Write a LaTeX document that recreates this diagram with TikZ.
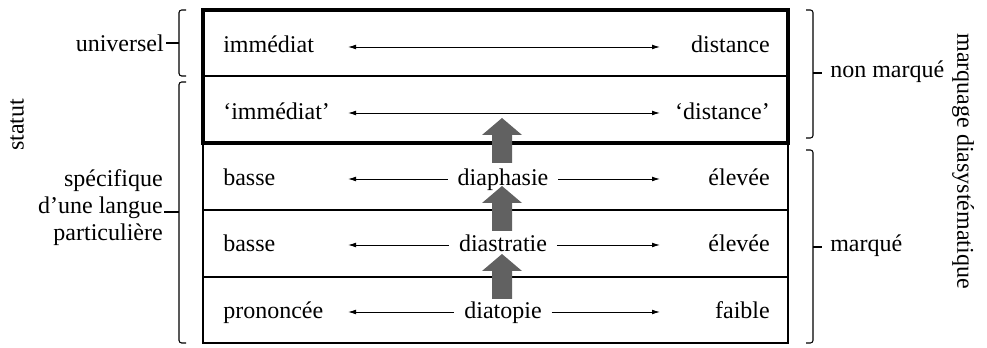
\documentclass[tikz,border=0pt]{standalone}
\usepackage{fontspec}
\setmainfont{Liberation Serif}
\usetikzlibrary{arrows.meta}
\begin{document}
\begin{tikzpicture}[x=0.75pt,y=-0.75pt,
  lbl/.style={font=\fontsize{18}{25}\selectfont, inner sep=0pt},
  mid/.style={lbl, anchor=base, outer xsep=7.5pt},
  rowline/.style={line width=1.1pt},
  frame/.style={line width=2.4pt},
  both/.style={line width=0.7pt, {Latex[length=6pt,width=3.6pt]}-{Latex[length=6pt,width=3.6pt]}},
  toleft/.style={line width=0.7pt, {Latex[length=6pt,width=3.6pt]}-},
  toright/.style={line width=0.7pt, -{Latex[length=6pt,width=3.6pt]}},
  brk/.style={line width=0.8pt, rounded corners=2pt},
  tick/.style={line width=0.8pt},
  bigarrow/.style={fill=black!62}
]
\useasboundingbox (0,0) rectangle (987,348);

% table rows
\draw[rowline] (203,143) rectangle (788,343);
\draw[rowline] (203,210) -- (788,210);
\draw[rowline] (203,277) -- (788,277);
\draw[rowline] (203,76) -- (788,76);
\draw[frame] (203,10) rectangle (788,143);

% row labels (placed on their baselines)
\node[lbl, anchor=base west] (l1) at (223,53) {immédiat};
\node[lbl, anchor=base east] (r1) at (770,53) {distance};
\node[lbl, anchor=base west] (l2) at (223,120) {‘immédiat’};
\node[lbl, anchor=base east] (r2) at (770,120) {‘distance’};
\node[lbl, anchor=base west] (l3) at (223,186) {basse};
\node[mid] (m3) at (503,186) {diaphasie};
\node[lbl, anchor=base east] (r3) at (770,186) {élevée};
\node[lbl, anchor=base west] (l4) at (223,252) {basse};
\node[mid] (m4) at (503,252) {diastratie};
\node[lbl, anchor=base east] (r4) at (770,252) {élevée};
\node[lbl, anchor=base west] (l5) at (223,319) {prononcée};
\node[mid] (m5) at (503,319) {diatopie};
\node[lbl, anchor=base east] (r5) at (770,319) {faible};

% arrow ends
\foreach \i/\y in {1/47,2/113,3/179,4/245,5/312}{
  \coordinate (a\i) at (348,\y);
  \coordinate (b\i) at (660,\y);
}
\draw[both] (a1) -- (b1);
\draw[both] (a2) -- (b2);
\foreach \i in {3,4,5}{
  \draw[toleft] (a\i) -- (a\i -| m\i.west);
  \draw[toright] (b\i -| m\i.east) -- (b\i);
}

% upward arrows
\foreach \t/\b in {118/163,186/231,254/299}{
  \fill[bigarrow] (492,\b) -- (492,\t+17) -- (482,\t+17) -- (502,\t) -- (522,\t+17) -- (512,\t+17) -- (512,\b) -- cycle;
}

% left brackets
\draw[brk] (186,10) -- (179,10) -- (179,76) -- (186,76);
\draw[tick] (179,43) -- (166,43);
\node[lbl, anchor=base east] (univ) at (164,52) {universel};
\draw[brk] (186,82) -- (179,82) -- (179,343) -- (186,343);
\draw[tick] (179,212) -- (164,212);
\node[lbl, anchor=base east] (spec1) at (163,187) {spécifique};
\node[lbl, anchor=base east] (spec2) at (163,214) {d’une langue};
\node[lbl, anchor=base east] (spec3) at (163,241) {particulière};
\node[lbl, rotate=90] (statut) at (17,125) {statut};

% right brackets
\draw[brk] (806,10) -- (813,10) -- (813,138) -- (806,138);
\draw[tick] (813,73) -- (822,73);
\node[lbl, anchor=base west] (nonm) at (830,78) {non marqué};
\draw[brk] (806,150) -- (813,150) -- (813,343) -- (806,343);
\draw[tick] (813,247) -- (822,247);
\node[lbl, anchor=base west] (marq) at (830,252) {marqué};
\node[lbl, rotate=-90] (mdia) at (963,161) {marquage diasystématique};
\end{tikzpicture}
\end{document}
